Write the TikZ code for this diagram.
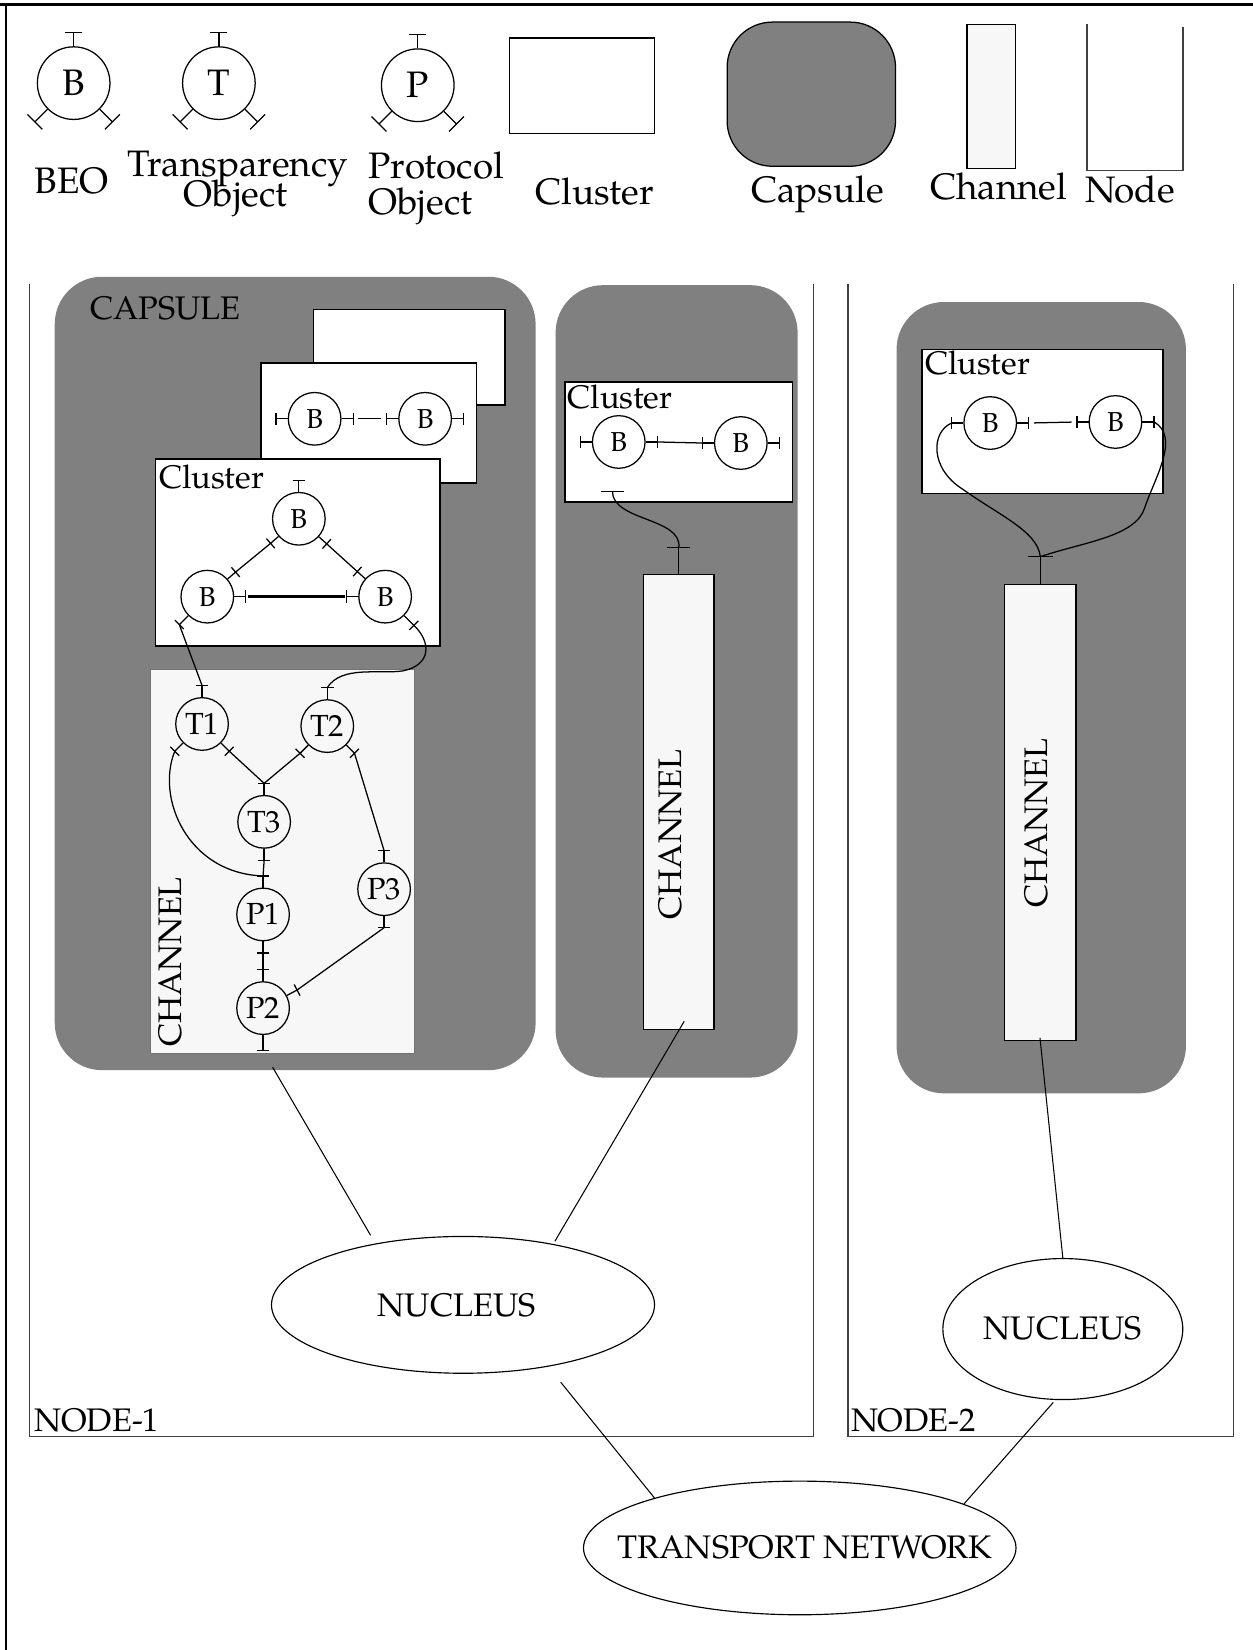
\documentclass[tikz,border=0pt]{standalone}
\usepackage{fontspec}
\setmainfont{texgyrepagella}[Extension=.otf, UprightFont=*-regular, BoldFont=*-bold, ItalicFont=*-italic, BoldItalicFont=*-bolditalic]
\usetikzlibrary{shapes.geometric,calc}
\definecolor{capsgray}{HTML}{808080}
\definecolor{chanfill}{HTML}{F7F7F7}
\newcommand\portx[5]{%
  \draw[ln] (#1.#2) -- ++(#2:#4) coordinate (#3) ++(#2+90:#5) -- ++(#2-90:#5) -- ++(#2-90:#5);
}
\tikzset{
  ln/.style={line width=1.2pt},
  thinln/.style={line width=1pt},
  obj/.style={circle, draw, line width=1.2pt, inner sep=0pt, minimum size=50pt, font=\fontsize{26}{26}\selectfont},
  tobj/.style={obj, font=\fontsize{29}{29}\selectfont},
  lobj/.style={obj, minimum size=69pt, font=\fontsize{35}{35}\selectfont},
  clus/.style={draw, fill=white, line width=1.4pt},
  chan/.style={draw, fill=chanfill, line width=1.2pt, inner sep=0pt},
  lbl/.style={font=\fontsize{31}{31}\selectfont, inner sep=0pt},
  leg/.style={font=\fontsize{35}{35}\selectfont, inner sep=0pt},
  nodeln/.style={draw=black!75, line width=1.5pt},
  nuc/.style={ellipse, draw, line width=1.1pt, inner sep=0pt},
}
\begin{document}
\begin{tikzpicture}[x=1pt,y=1pt]
\useasboundingbox (0,0) rectangle (1190,-1568);
% frame
\draw[line width=3pt] (-10,-4) -- (1200,-4);
\draw[line width=1.6pt] (6,-4) -- (6,-1600);

% ---------- legend ----------
\node[lobj] (lb) at (70,-79) {B};
\node[lobj] (lt) at (208,-79) {T};
\node[lobj] (lp) at (397,-81) {P};
\foreach \n in {lb,lt,lp}{
  \portx{\n}{90}{\n t}{13}{8}
  \portx{\n}{225}{\n l}{17}{10}
  \portx{\n}{315}{\n r}{17}{10}
}
\node[leg, anchor=base] at (68,-184) {BEO};
\node[leg, anchor=base] at (226,-168) {Transparency};
\node[leg, anchor=base] at (224,-196) {Object};
\node[leg, anchor=base west] at (350,-170) {Protocol};
\node[leg, anchor=base west] at (350,-204) {Object};
\node[leg, anchor=base] at (565,-194) {Cluster};
\node[leg, anchor=base] at (777,-192) {Capsule};
\node[leg, anchor=base] at (949,-190) {Channel};
\node[leg, anchor=base] at (1074,-192) {Node};
\draw[clus] (484,-36) rectangle (622,-127);
\draw[fill=capsgray, line width=1.2pt, rounded corners=43pt] (691,-21) rectangle (851,-158);
\draw[chan] (919,-23) rectangle (965,-160);
\draw[nodeln] (1033,-23) -- (1033,-162) -- (1124,-162) -- (1124,-26);

% ---------- node boxes ----------
\draw[nodeln] (28,-270) -- (28,-1365) -- (773,-1365) -- (773,-270);
\draw[nodeln] (806,-270) -- (806,-1365) -- (1172,-1365) -- (1172,-270);
\node[lbl, anchor=base west] at (33,-1360) {NODE-1};
\node[lbl, anchor=base west] at (809,-1360) {NODE-2};

% ---------- capsules ----------
\fill[capsgray, rounded corners=45pt] (52,-263) rectangle (509,-1017);
\fill[capsgray, rounded corners=45pt] (528,-271) rectangle (758,-1024);
\fill[capsgray, rounded corners=45pt] (852,-287) rectangle (1127,-1039);
\node[lbl, anchor=base west] at (86,-304) {CAPSULE};

% ---------- capsule 1 clusters ----------
\draw[clus] (298,-294) rectangle (480,-385);
\draw[clus] (248,-345) rectangle (453,-459);
\node[obj] (kb1) at (299,-398) {B};
\node[obj] (kb2) at (404,-398) {B};
\portx{kb1}{180}{kb1l}{11}{6}
\portx{kb1}{0}{kb1r}{11}{6}
\portx{kb2}{180}{kb2l}{11}{6}
\portx{kb2}{0}{kb2r}{11}{6}
\draw[ln, shorten <=5pt, shorten >=5pt] (kb1r) -- (kb2l);

\draw[clus] (148,-436) rectangle (418,-614);
\node[lbl, anchor=base west] at (151,-464) {Cluster};
\node[obj] (ct) at (284,-493) {B};
\node[obj] (cl) at (197,-567) {B};
\node[obj] (cr) at (366,-567) {B};
\portx{ct}{90}{ctt}{11}{6}
\portx{ct}{221}{ctl}{10}{6}
\portx{ct}{318}{ctr}{10}{6}
\portx{cl}{41}{clu}{10}{6}
\portx{cl}{0}{clr}{11}{6}
\portx{cl}{225}{cld}{12}{6}
\portx{cr}{138}{cru}{10}{6}
\portx{cr}{180}{crl}{11}{6}
\portx{cr}{315}{crd}{13}{6}
\draw[ln] (ctl) -- (clu);
\draw[ln] (ctr) -- (cru);
\draw[line width=2.6pt, shorten <=2pt, shorten >=2pt] (clr) -- (crl);

% ---------- channel 1 ----------
\draw[fill=chanfill, draw=black!55, line width=1pt] (143,-636) rectangle (394,-1001);
\node[lbl, rotate=90] at (162,-914) {CHANNEL};
\node[tobj] (t1) at (192,-688) {T1};
\node[tobj] (t2) at (311,-690) {T2};
\node[tobj] (t3) at (251,-781) {T3};
\node[tobj] (p1) at (250,-869) {P1};
\node[tobj] (p3) at (365,-845) {P3};
\node[tobj] (p2) at (250,-958) {P2};
\portx{t1}{90}{t1t}{11}{6}
\portx{t1}{225}{t1l}{11}{6}
\portx{t1}{315}{t1r}{11}{6}
\portx{t2}{90}{t2t}{11}{6}
\portx{t2}{225}{t2l}{11}{6}
\portx{t2}{315}{t2r}{11}{6}
\portx{t3}{90}{t3t}{11}{6}
\portx{t3}{270}{t3b}{11}{6}
\portx{p1}{90}{p1t}{11}{6}
\portx{p1}{270}{p1b}{11}{6}
\portx{p3}{90}{p3t}{11}{6}
\portx{p3}{270}{p3b}{11}{6}
\portx{p2}{90}{p2t}{11}{6}
\portx{p2}{28}{p2r}{11}{6}
\portx{p2}{270}{p2b}{15}{6}
\draw[ln] (cld) -- (t1t);
\draw[ln] (crd) .. controls (410,-610) and (410,-632) .. (383,-637.5)
  .. controls (360,-641) and (325,-632) .. (t2t);
\draw[ln] (t1l) .. controls (148,-758) and (178,-830) .. (p1t);
\draw[ln] (t1r) -- (t3t);
\draw[ln] (t2l) -- (t3t);
\draw[ln] (t2r) -- (p3t);
\draw[ln] (t3b) -- (p1t);
\draw[ln] (p1b) -- (p2t);
\draw[ln] (p3b) -- (p2r);

% ---------- capsule 2 ----------
\draw[clus] (537,-363) rectangle (753,-477);
\node[lbl, anchor=base west] at (539,-388) {Cluster};
\node[obj] (db1) at (588,-420) {B};
\node[obj] (db2) at (704,-421) {B};
\portx{db1}{180}{db1l}{11}{6}
\portx{db1}{0}{db1r}{11}{6}
\portx{db2}{180}{db2l}{11}{6}
\portx{db2}{0}{db2r}{11}{6}
\draw[ln] (db1r) -- (db2l);
\coordinate (dcp) at (582,-467);
\draw[ln] (dcp) ++(-11,0) -- ++(22,0);
\node[chan, anchor=north west, minimum width=67pt, minimum height=433pt] (ch2) at (611,-545) {};
\node[lbl, rotate=90] at (637,-793) {CHANNEL};
\draw[ln] (ch2.north) -- ++(0,25) coordinate (ch2p) ++(-11,0) -- ++(22,0);
\draw[ln] (dcp) .. controls (582,-495) and (648,-492) .. (ch2p);

% ---------- capsule 3 ----------
\draw[clus] (876,-332) rectangle (1105,-469);
\node[lbl, anchor=base west] at (879,-356) {Cluster};
\node[obj] (eb1) at (941,-402) {B};
\node[obj] (eb2) at (1060,-401) {B};
\portx{eb1}{180}{eb1l}{11}{6}
\portx{eb1}{0}{eb1r}{11}{6}
\portx{eb2}{180}{eb2l}{11}{6}
\portx{eb2}{0}{eb2r}{11}{6}
\draw[ln, shorten <=5pt, shorten >=5pt] (eb1r) -- (eb2l);
\node[chan, anchor=north west, minimum width=68pt, minimum height=433pt] (ch3) at (954,-555) {};
\node[lbl, rotate=90] at (985,-782) {CHANNEL};
\draw[ln] (ch3.north) -- ++(0,26) coordinate (ch3p) ++(-12,0) -- ++(24,0);
\draw[ln] (eb1l) .. controls (885,-410) and (883,-445) .. (915,-465)
  .. controls (950,-490) and (986,-505) .. (ch3p);
\draw[ln] (eb2r) .. controls (1122,-415) and (1097,-455) .. (1088,-482)
  .. controls (1080,-510) and (1030,-515) .. (ch3p);

% ---------- nuclei and network ----------
\node[nuc, minimum width=364pt, minimum height=130pt] (nuc1) at (440,-1240) {};
\node[lbl] at (434,-1240) {NUCLEUS};
\node[nuc, minimum width=228pt, minimum height=134pt] (nuc2) at (1010,-1263) {};
\node[lbl] at (1010,-1262) {NUCLEUS};
\node[nuc, minimum width=411pt, minimum height=127pt] (tn) at (760,-1471) {};
\node[lbl] at (765,-1470) {TRANSPORT NETWORK};

\draw[thinln, shorten <=18pt, shorten >=9pt] (p2b) -- (nuc1.145);
\draw[thinln, shorten <=-10pt, shorten >=3pt] (ch2.south) -- (nuc1.34);
\draw[thinln, shorten <=-3pt] (ch3.south) -- (nuc2.north);
\draw[thinln, shorten <=19pt] (nuc1.-36) -- (tn.161);
\draw[thinln, shorten <=3pt] (nuc2.-96) -- (tn.15);
\end{tikzpicture}
\end{document}
